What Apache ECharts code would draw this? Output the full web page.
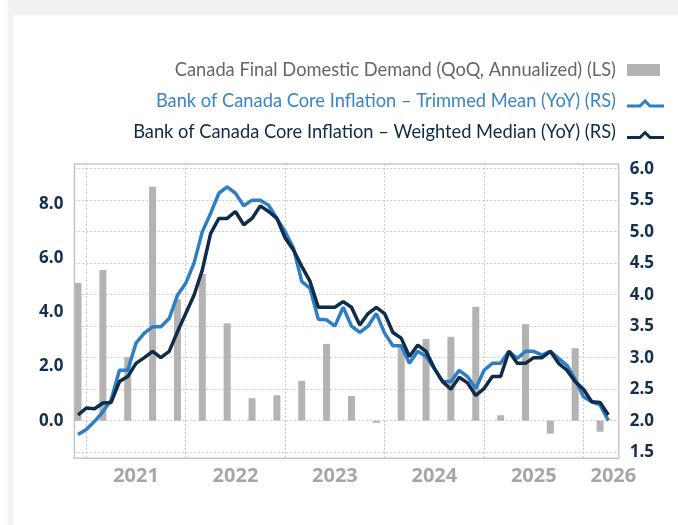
<!DOCTYPE html>
<html><head><meta charset="utf-8">
<script src="https://cdn.jsdelivr.net/npm/echarts@6/dist/echarts.min.js"></script>
<style>html,body{margin:0;padding:0;background:#fff}#c{width:678px;height:525px}</style>
</head><body><div id="c"></div><script>
// ---- data ----
const months = ["2020-12",
"2021-01","2021-02","2021-03","2021-04","2021-05","2021-06","2021-07","2021-08","2021-09","2021-10","2021-11","2021-12",
"2022-01","2022-02","2022-03","2022-04","2022-05","2022-06","2022-07","2022-08","2022-09","2022-10","2022-11","2022-12",
"2023-01","2023-02","2023-03","2023-04","2023-05","2023-06","2023-07","2023-08","2023-09","2023-10","2023-11","2023-12",
"2024-01","2024-02","2024-03","2024-04","2024-05","2024-06","2024-07","2024-08","2024-09","2024-10","2024-11","2024-12",
"2025-01","2025-02","2025-03","2025-04","2025-05","2025-06","2025-07","2025-08","2025-09","2025-10","2025-11","2025-12",
"2026-01","2026-02","2026-03","2026-04"];
const trimmedMean = [1.78,
1.86,1.99,2.14,2.33,2.80,2.80,3.23,3.39,3.49,3.49,3.62,3.99,
4.18,4.50,5.00,5.29,5.61,5.71,5.61,5.41,5.50,5.50,5.42,5.21,
5.00,4.74,4.21,4.10,3.61,3.60,3.50,3.80,3.50,3.40,3.50,3.70,
3.39,3.19,3.19,2.91,3.10,3.02,2.83,2.62,2.62,2.80,2.70,2.51,
2.80,2.91,2.91,3.10,2.99,3.10,3.10,3.04,3.10,2.99,2.88,2.65,
2.38,2.30,2.25,2.00];
const weightedMedian = [2.09,
2.20,2.19,2.28,2.29,2.62,2.70,2.91,3.00,3.10,3.00,3.10,3.41,
3.70,3.99,4.39,4.97,5.21,5.21,5.32,5.11,5.21,5.41,5.32,5.21,
4.90,4.71,4.45,4.21,3.80,3.80,3.80,3.89,3.80,3.52,3.70,3.80,
3.70,3.40,3.31,3.02,3.20,3.10,2.83,2.62,2.50,2.69,2.60,2.40,
2.51,2.70,2.70,3.10,2.91,2.91,3.00,3.00,3.10,2.91,2.80,2.62,
2.50,2.30,2.29,2.09];
const quarterEnds = ["2020-12","2021-03","2021-06","2021-09","2021-12","2022-03","2022-06","2022-09","2022-12",
"2023-03","2023-06","2023-09","2023-12","2024-03","2024-06","2024-09","2024-12","2025-03","2025-06","2025-09","2025-12","2026-03"];
const demandQoQ = [5.09,5.57,2.35,8.65,4.49,5.42,3.60,0.83,0.94,1.47,2.84,0.91,-0.08,2.75,3.02,3.10,4.21,0.20,3.57,-0.48,2.68,-0.41];
const yearLabels = ["2021","2022","2023","2024","2025","2026"];
const leftTicks = [0,2,4,6,8];
const rightTicks = [1.5,2.0,2.5,3.0,3.5,4.0,4.5,5.0,5.5,6.0];
const names = ["Canada Final Domestic Demand (QoQ, Annualized) (LS)",
"Bank of Canada Core Inflation \u2013 Trimmed Mean (YoY) (RS)",
"Bank of Canada Core Inflation \u2013 Weighted Median (YoY) (RS)"];

// ---- helpers ----
const toIdx = s => { const p = s.split('-').map(Number); return (p[0]-2021)*12 + (p[1]-1); };
const yearTickPos = [0,12,24,36,48,60];
const yearLabelPos = [6,18,30,42,54,63.6];
const C_BAR = '#b3b3b3', C_TRIM = '#2f7dc4', C_MED = '#0f2c48', C_GRID = '#c9c9c9';
const FONT = 'Open Sans';
const LFONT = 'Lato';

function fit(text, w){ const c=document.createElement('canvas').getContext('2d'); c.font='400 100px "'+LFONT+'"'; return 100*w/c.measureText(text).width; }
const legW = [444, 459.5, 481];
const legSize = (fit(names[0],legW[0])+fit(names[1],legW[1])+fit(names[2],legW[2]))/3;
const lf = '400 '+legSize.toFixed(2)+'px "'+LFONT+'"';

const chart = echarts.init(document.getElementById('c'), null, {renderer:'canvas'});
const dotted = {color: C_GRID, width: 1, type: [2,2]};
chart.setOption({
  animation: false,
  backgroundColor: '#fff',
  grid: {left: 74.4, right: 59.3, top: 164, bottom: 66.7, show: true, borderColor: '#c6c6c6', borderWidth: 1.5, backgroundColor: 'transparent'},
  xAxis: {
    type: 'value', min: -1.436, max: 64.25,
    axisLine: {show: false},
    axisTick: {show: true, customValues: yearTickPos, length: 29, lineStyle: dotted},
    splitLine: {show: true, lineStyle: dotted},
    axisLabel: {customValues: yearLabelPos, margin: 8, color: '#a6a6a6', fontFamily: FONT, fontWeight: 'bold', fontSize: 20,
      formatter: v => { const i = yearLabelPos.findIndex(p => Math.abs(p - v) < 1e-6); return i >= 0 ? yearLabels[i] : ''; }}
  },
  yAxis: [
    {type: 'value', min: -1.392, max: 9.492, position: 'left',
      axisLine: {show: false}, axisTick: {show: false, customValues: leftTicks}, splitLine: {show: false},
      axisLabel: {customValues: leftTicks, margin: 11, color: '#13304e', fontFamily: FONT, fontWeight: 'bold', fontSize: 17, formatter: v => v.toFixed(1)}},
    {type: 'value', min: 1.4027, max: 6.0741, position: 'right',
      axisLine: {show: false}, axisTick: {show: false, customValues: rightTicks}, splitLine: {show: true, lineStyle: dotted},
      axisLabel: {customValues: rightTicks, margin: 11, color: '#13304e', fontFamily: FONT, fontWeight: 'bold', fontSize: 17, formatter: v => v.toFixed(1)}}
  ],
  series: [
    {name: names[0], type: 'bar', yAxisIndex: 0, barWidth: 7, itemStyle: {color: C_BAR},
      data: quarterEnds.map((q,i) => [toIdx(q), demandQoQ[i]]), z: 1},
    {name: names[1], type: 'line', yAxisIndex: 1, symbol: 'none', lineStyle: {color: C_TRIM, width: 3.5}, itemStyle: {color: C_TRIM},
      data: months.map((s,i) => [toIdx(s), trimmedMean[i]]), z: 3},
    {name: names[2], type: 'line', yAxisIndex: 1, symbol: 'none', lineStyle: {color: C_MED, width: 3.5}, itemStyle: {color: C_MED},
      data: months.map((s,i) => [toIdx(s), weightedMedian[i]]), z: 4}
  ],
  graphic: [
    {type: 'rect', shape: {x: 7.5, y: 0, width: 671, height: 15}, style: {fill: '#f1f1f1'}, silent: true},
    {type: 'rect', shape: {x: 7.5, y: 15, width: 5.5, height: 510}, style: {fill: '#f1f1f1'}, silent: true},
    {type: 'text', x: 616, y: 70, style: {text: names[0], fill: '#666666', font: lf, textAlign: 'right', textVerticalAlign: 'middle'}},
    {type: 'text', x: 616, y: 101, style: {text: names[1], fill: '#3a84c8', font: lf, textAlign: 'right', textVerticalAlign: 'middle'}},
    {type: 'text', x: 616, y: 132, style: {text: names[2], fill: '#0f2a45', font: lf, textAlign: 'right', textVerticalAlign: 'middle'}},
    {type: 'rect', shape: {x: 627, y: 64, width: 33, height: 12}, style: {fill: C_BAR}},
    {type: 'polyline', shape: {points: [[627,106],[640,106],[645,101],[650,106],[664,106]]}, style: {stroke: C_TRIM, lineWidth: 3, fill: null}},
    {type: 'polyline', shape: {points: [[627,137.5],[640,137.5],[645,132.5],[650,137.5],[664,137.5]]}, style: {stroke: C_MED, lineWidth: 3, fill: null}}
  ]
});
</script></body></html>
